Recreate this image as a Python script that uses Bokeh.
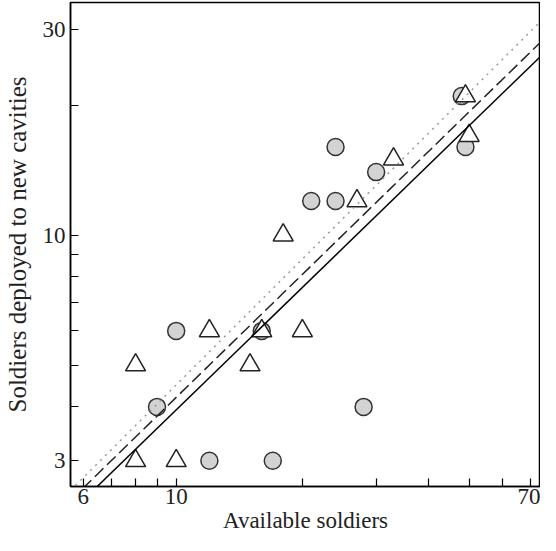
from bokeh.plotting import figure
from bokeh.models import FixedTicker, Range1d, NumeralTickFormatter
from bokeh.embed import file_html
from bokeh.resources import INLINE

# --- data (log-log scatter) ---
circle_x = [9, 10, 12, 16, 17, 21, 24, 24, 28, 30, 48, 49]
circle_y = [4, 6, 3, 6, 3, 12, 12, 16, 4, 14, 21, 16]
tri_x = [8, 8, 10, 12, 15, 16, 18, 20, 27, 33, 49, 50]
tri_y = [5, 3, 3, 6, 5, 6, 10, 6, 12, 15, 21, 17]

# power-law fits y = a * x^b : solid, dashed, dotted
fit_a = [0.450, 0.476, 0.483]
fit_b = [0.942, 0.9465, 0.969]

x_major = [6, 10, 70]
x_minor = [7, 8, 9, 20, 30, 40, 50, 60]
y_major = [3, 10, 30]
y_minor = [4, 5, 6, 7, 8, 9, 20]

X0, X1 = 5.595, 74.0
Y0, Y1 = 2.616, 34.6

FONT = "Liberation Serif"
TICK_FS = "23px"
XLAB_FS = "23px"
YLAB_FS = "25px"
TXT = "#222222"

p = figure(width=540, height=535, x_axis_type="log", y_axis_type="log",
           x_range=Range1d(X0, X1), y_range=Range1d(Y0, Y1),
           output_backend="svg", toolbar_location=None,
           min_border_left=65, min_border_right=0, min_border_top=2,
           min_border_bottom=0)

p.grid.visible = False
p.outline_line_color = "black"
p.outline_line_width = 1.5
p.background_fill_color = "white"

p.scatter(circle_x, circle_y, marker="circle", size=17,
          fill_color="#d3d3d3", line_color="#333333", line_width=1.5)
p.scatter(tri_x, tri_y, marker="triangle", size=20,
          fill_color="white", line_color="#222222", line_width=1.5)

styles = [dict(line_color="black", line_dash="solid", line_width=1.5),
          dict(line_color="#222222", line_dash="12 5", line_width=1.5),
          dict(line_color="#999999", line_dash="2 5", line_width=1.5)]
for a, b, st in zip(fit_a, fit_b, styles):
    xs = [X0, X1]
    ys = [a * xv ** b for xv in xs]
    p.line(xs, ys, **st)

p.xaxis.ticker = FixedTicker(ticks=x_major, minor_ticks=x_minor)
p.yaxis.ticker = FixedTicker(ticks=y_major, minor_ticks=y_minor)
for ax in (p.xaxis, p.yaxis):
    ax.formatter = NumeralTickFormatter(format="0")
    ax.axis_line_color = "black"
    ax.axis_line_width = 1.5
    ax.major_tick_in = 8
    ax.major_tick_out = 0
    ax.minor_tick_in = 8
    ax.minor_tick_out = 0
    ax.major_tick_line_color = "black"
    ax.minor_tick_line_color = "black"
    ax.major_tick_line_width = 1.2
    ax.minor_tick_line_width = 1.2
    ax.major_label_text_font = FONT
    ax.major_label_text_font_size = TICK_FS
    ax.major_label_text_color = TXT
    ax.axis_label_text_font = FONT
    ax.axis_label_text_font_style = "normal"
    ax.axis_label_text_color = TXT

p.xaxis.axis_label_text_font_size = XLAB_FS
p.yaxis.axis_label_text_font_size = YLAB_FS
p.xaxis.axis_label = "Available soldiers"
p.yaxis.axis_label = "Soldiers deployed to new cavities"
p.xaxis.major_label_standoff = 2
p.yaxis.major_label_standoff = 5
p.xaxis.axis_label_standoff = 1
p.yaxis.axis_label_standoff = 9

open("out.html", "w").write(file_html(p, INLINE))
